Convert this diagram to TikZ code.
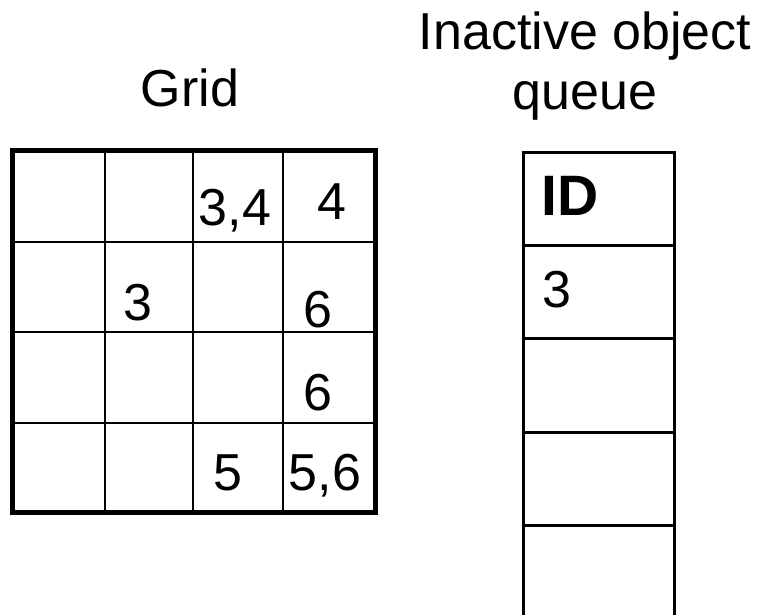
\documentclass[tikz,border=0pt]{standalone}
\usepackage{fontspec}
\setmainfont{Liberation Sans}
\usetikzlibrary{positioning}

\begin{document}
\begin{tikzpicture}[
            x=1pt, y=-1pt,
            title/.style={font=\fontsize{52}{60}\selectfont,inner sep=0pt,anchor=base},
            entry/.style={font=\fontsize{52}{60}\selectfont,inner sep=0pt,anchor=base},
            head/.style={font=\fontsize{57}{60}\selectfont\bfseries,inner sep=0pt,anchor=base},
            grid line/.style={draw,line width=2pt},
            queue line/.style={draw,line width=3pt},
        ]
            \useasboundingbox (0,0) rectangle (763,615);

            % titles
            \node[title] (gridtitle) at (190,107) {Grid};
            \node[title] (queuetitle) at (585,50) {Inactive object};
            \node[title] (queuetitle2) at (585,110) {queue};

            % grid
            \foreach \x in {105,193,283}
                \draw[grid line] (\x,150) -- (\x,513);
            \foreach \y in {242,332,423}
                \draw[grid line] (12,\y) -- (376,\y);
            \draw[line width=5pt] (12.5,150.5) rectangle (375.5,512.5);

            \node[entry] (c13) at (235,225) {3,4};
            \node[entry] (c14) at (332,219) {4};
            \node[entry] (c22) at (138,320) {3};
            \node[entry] (c24) at (318,327) {6};
            \node[entry] (c34) at (318,410) {6};
            \node[entry] (c43) at (228,490) {5};
            \node[entry] (c44) at (325,490) {5,6};

            % queue
            \draw[queue line] (523,615) -- (523,153) -- (674,153) -- (674,615);
            \foreach \y in {245,338,432,525}
                \draw[queue line] (523,\y) -- (674,\y);

            \node[head] (qhead) at (570,215) {ID};
            \node[entry] (q1) at (557,307) {3};
        \end{tikzpicture}
\end{document}
